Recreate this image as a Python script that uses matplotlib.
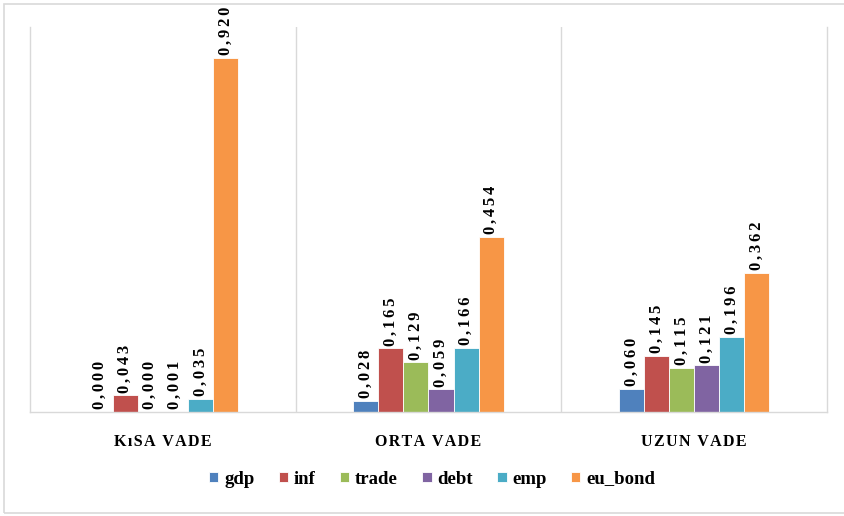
import matplotlib
matplotlib.use("Agg")
import matplotlib.pyplot as plt
from matplotlib.patches import Rectangle
import numpy as np

categories = ["KıSA VADE", "ORTA VADE", "UZUN VADE"]
series_names = ["gdp", "inf", "trade", "debt", "emp", "eu_bond"]
gdp = [0.000, 0.028, 0.060]
inf = [0.043, 0.165, 0.145]
trade = [0.000, 0.129, 0.115]
debt = [0.001, 0.059, 0.121]
emp = [0.035, 0.166, 0.196]
eu_bond = [0.920, 0.454, 0.362]
series_values = [gdp, inf, trade, debt, emp, eu_bond]
colors = ["#4F81BD", "#C0504D", "#9BBB59", "#8064A2", "#4BACC6", "#F79646"]

plt.rcParams['font.family'] = ['Liberation Serif', 'DejaVu Serif']

fig = plt.figure(figsize=(8.44, 5.16), dpi=100)
fig.patches.append(Rectangle((4/844, 3/516), 845/844, 509/516, transform=fig.transFigure,
                             fill=False, edgecolor="#D9D9D9", linewidth=1.2))
ax = fig.add_axes([30/844, (516-412)/516, (827-30)/844, (412-27)/516])

n = len(series_names)
bw = 25/265
x = np.arange(len(categories))

def spaced(s, sp="\u2006"):
    return sp.join(s)

for i, (name, vals, c) in enumerate(zip(series_names, series_values, colors)):
    pos = x + (i - (n-1)/2) * bw
    ax.bar(pos, vals, width=bw, color=c, edgecolor="white", linewidth=0.6, label=name)
    for p, v in zip(pos, vals):
        lab = f"{v:.3f}".replace(".", ",")
        ax.annotate(spaced(lab), (p, v), xytext=(0, 2), textcoords="offset points",
                    rotation=90, ha="center", va="bottom", fontsize=12, fontweight="bold")

ax.set_xlim(-0.5, 2.5)
ax.set_ylim(0, 1.0)
ax.set_yticks([])
ax.set_xticks(x)
ax.set_xticklabels([spaced(c, "\u200a") for c in categories],
                   fontsize=11.5, fontweight="bold")
ax.tick_params(axis="x", length=0, pad=16)
for b in [0.5, 1.5]:
    ax.axvline(b, color="#D9D9D9", linewidth=1)
ax.spines["top"].set_visible(False)
for s in ["left", "right", "bottom"]:
    ax.spines[s].set_color("#D9D9D9")
    ax.spines[s].set_linewidth(1)

leg = fig.legend(loc="center", bbox_to_anchor=(432/844, (516-479)/516), ncol=6, frameon=False,
                 prop={"weight": "bold", "size": 13.5}, handlelength=0.5, handleheight=0.5,
                 handletextpad=0.3, columnspacing=1.3)

fig.savefig("out.png", dpi=100)
